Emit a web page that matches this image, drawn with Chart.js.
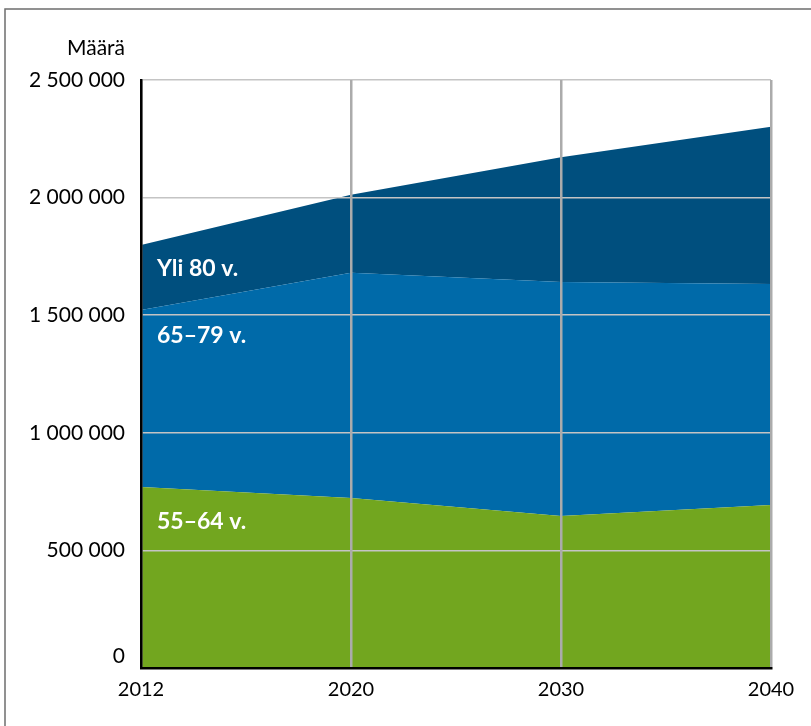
<!DOCTYPE html>
<html><head><meta charset="utf-8">
<script src="https://cdn.jsdelivr.net/npm/chart.js@4"></script>
<style>html,body{margin:0;padding:0;background:#fff}#wrap{width:811px;height:726px;position:relative}</style>
</head><body><div id="wrap"><canvas id="c" width="811" height="726"></canvas></div>
<script>
const years = ['2012', '2020', '2030', '2040'];
const age55_64 = [770000, 723000, 646000, 693000];
const age65_79 = [752000, 957000, 995000, 940000];
const age80plus = [276000, 332000, 531000, 668000];
const seriesLabels = ['55–64 v.', '65–79 v.', 'Yli 80 v.'];
const yMax = 2500000;
const yStep = 500000;
const yTitle = 'Määrä';

const FONT = 'Lato, "Open Sans", sans-serif';
const fmt = v => String(v).replace(/\B(?=(\d{3})+(?!\d))/g, ' ');

const overlay = {
  id: 'overlay',
  beforeDraw(chart) {
    const ctx = chart.ctx;
    ctx.save();
    ctx.strokeStyle = '#6e6e6e';
    ctx.lineWidth = 1.5;
    ctx.strokeRect(5, 9, 1000, 1000);
    ctx.restore();
  },
  afterDraw(chart) {
    const ctx = chart.ctx;
    const xs = chart.scales.x, ys = chart.scales.y;
    ctx.save();
    ctx.fillStyle = '#000';
    ctx.font = '21px ' + FONT;
    ctx.textAlign = 'right';
    ctx.textBaseline = 'middle';
    ctx.fillText(yTitle, 125, 48);
    ctx.fillText('0', 125, ys.getPixelForValue(0) - 12);
    const x0 = xs.getPixelForValue(0) + 16;
    const tops = [age55_64[0], age55_64[0] + age65_79[0], age55_64[0] + age65_79[0] + age80plus[0]];
    const offs = [35, 26, 23];
    ctx.fillStyle = '#fff';
    ctx.font = 'bold 23px ' + FONT;
    ctx.textAlign = 'left';
    for (let i = 0; i < 3; i++) {
      ctx.fillText(seriesLabels[i], x0, ys.getPixelForValue(tops[i]) + offs[i]);
    }
    ctx.restore();
  }
};

new Chart(document.getElementById('c'), {
  type: 'line',
  data: {
    labels: years,
    datasets: [
      { label: seriesLabels[0], data: age55_64, backgroundColor: '#72a61f', fill: 'origin' },
      { label: seriesLabels[1], data: age65_79, backgroundColor: '#006aa9', fill: '-1' },
      { label: seriesLabels[2], data: age80plus, backgroundColor: '#004f7e', fill: '-1' }
    ]
  },
  options: {
    responsive: false,
    animation: false,
    elements: { line: { tension: 0, borderWidth: 0 }, point: { radius: 0 } },
    layout: { padding: { top: 80, right: 40, left: 0, bottom: 0 } },
    plugins: { legend: { display: false }, tooltip: { enabled: false } },
    scales: {
      x: {
        offset: false,
        grid: { color: '#ababab', lineWidth: 2.5, drawTicks: false, z: 2 },
        border: { color: '#000', width: 2.5, z: 3 },
        ticks: { color: '#000', font: { family: FONT, size: 20 }, padding: 10, maxRotation: 0, autoSkip: false, z: 3 },
        afterFit(s) { s.height = 58; }
      },
      y: {
        stacked: true,
        min: 0, max: yMax,
        grid: { color: '#c4c4c4', lineWidth: 1.5, drawTicks: false, z: 1 },
        border: { color: '#000', width: 2.5, z: 3 },
        ticks: {
          stepSize: yStep, color: '#000', font: { family: FONT, size: 21 }, padding: 16, z: 3,
          callback: v => v === 0 ? '' : fmt(v)
        },
        afterFit(s) { s.width = 141; }
      }
    }
  },
  plugins: [overlay]
});
</script></body></html>
